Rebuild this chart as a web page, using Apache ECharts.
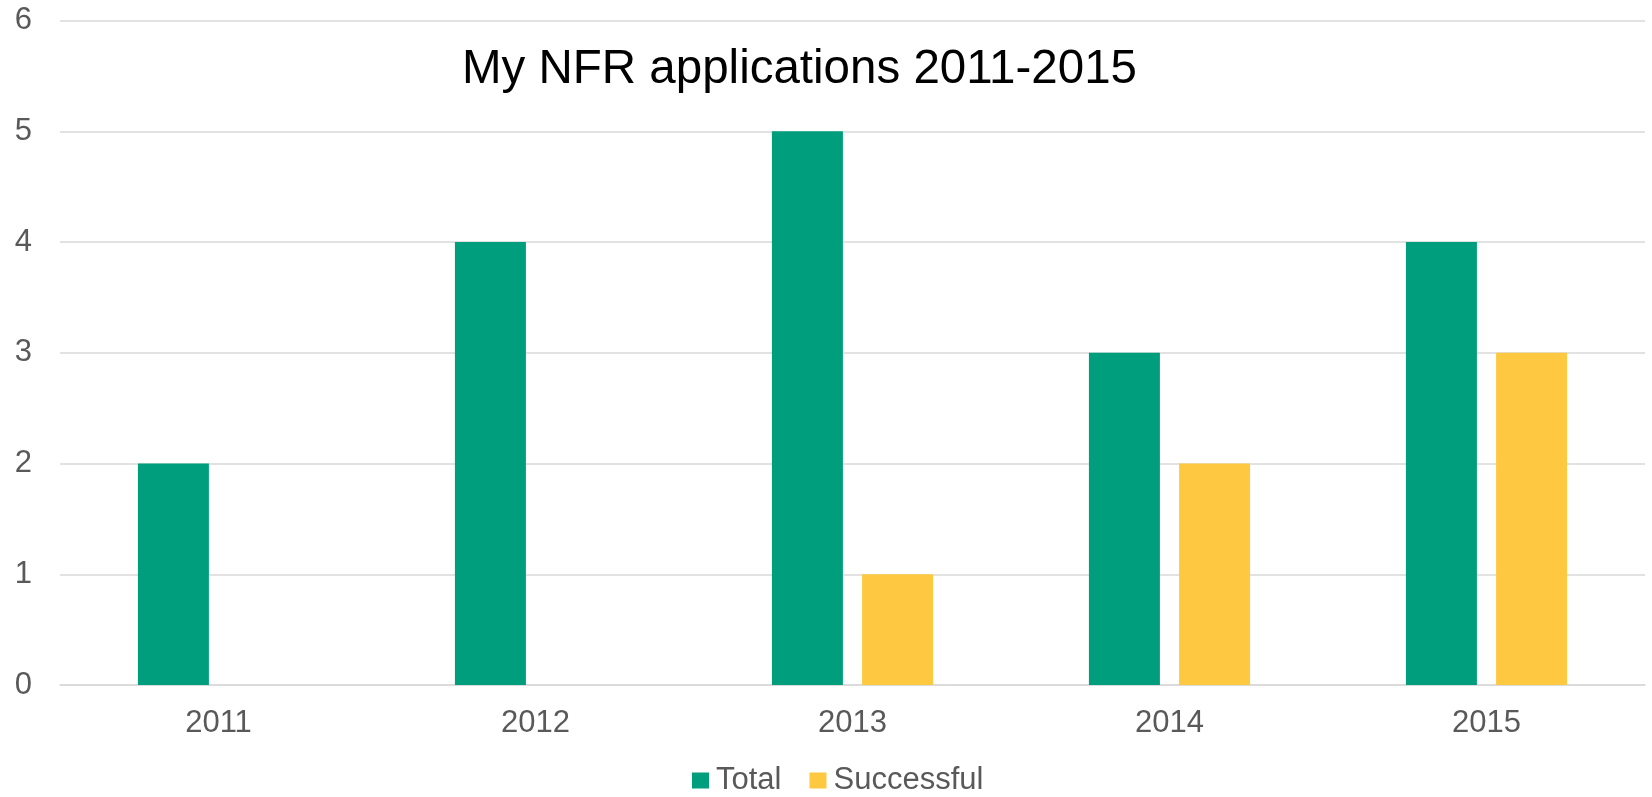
<!DOCTYPE html>
<html>
<head>
<meta charset="utf-8">
<script src="https://cdn.jsdelivr.net/npm/echarts@6/dist/echarts.min.js"></script>
<style>
html,body{margin:0;padding:0;background:#fff;}
#chart{width:1652px;height:797px;}
</style>
</head>
<body>
<div id="chart"></div>
<script>
const categories = ['2011', '2012', '2013', '2014', '2015'];
const totalValues = [2, 4, 5, 3, 4];
const successfulValues = [0, 0, 1, 2, 3];
const seriesNames = ['Total', 'Successful'];
const titleText = 'My NFR applications 2011-2015';

const FONT = "'Liberation Sans', Arial, sans-serif";
const chart = echarts.init(document.getElementById('chart'), null, {renderer: 'canvas'});
chart.setOption({
  animation: false,
  backgroundColor: '#ffffff',
  title: {
    text: titleText,
    left: 799.5,
    textAlign: 'center',
    top: 46,
    padding: 0,
    textStyle: {fontFamily: FONT, fontSize: 47.5, fontWeight: 'normal', color: '#000000'}
  },
  legend: {
    data: seriesNames,
    left: 692,
    top: 765,
    padding: 0,
    itemWidth: 17,
    itemHeight: 16,
    itemGap: 28,
    icon: 'rect',
    textStyle: {fontFamily: FONT, fontSize: 31, color: '#595959', padding: [0, 0, 0, 2]}
  },
  grid: {left: 60, right: 7, top: 20.5, bottom: 112, containLabel: false},
  xAxis: {
    type: 'category',
    data: categories,
    axisTick: {show: false},
    axisLine: {show: true, lineStyle: {color: '#d9d9d9', width: 1.5}},
    axisLabel: {fontFamily: FONT, fontSize: 31, color: '#595959', margin: 23}
  },
  yAxis: {
    type: 'value',
    min: 0,
    max: 6,
    interval: 1,
    axisLine: {show: false},
    axisTick: {show: false},
    splitLine: {lineStyle: {color: '#d9d9d9', width: 1.5}},
    axisLabel: {fontFamily: FONT, fontSize: 31, color: '#595959', margin: 28}
  },
  series: [
    {name: seriesNames[0], type: 'bar', data: totalValues, barWidth: 71, barGap: '27%',
     itemStyle: {color: '#009E7D'}},
    {name: seriesNames[1], type: 'bar', data: successfulValues, barWidth: 71, barGap: '27%',
     itemStyle: {color: '#FEC841'}}
  ]
});
</script>
</body>
</html>
